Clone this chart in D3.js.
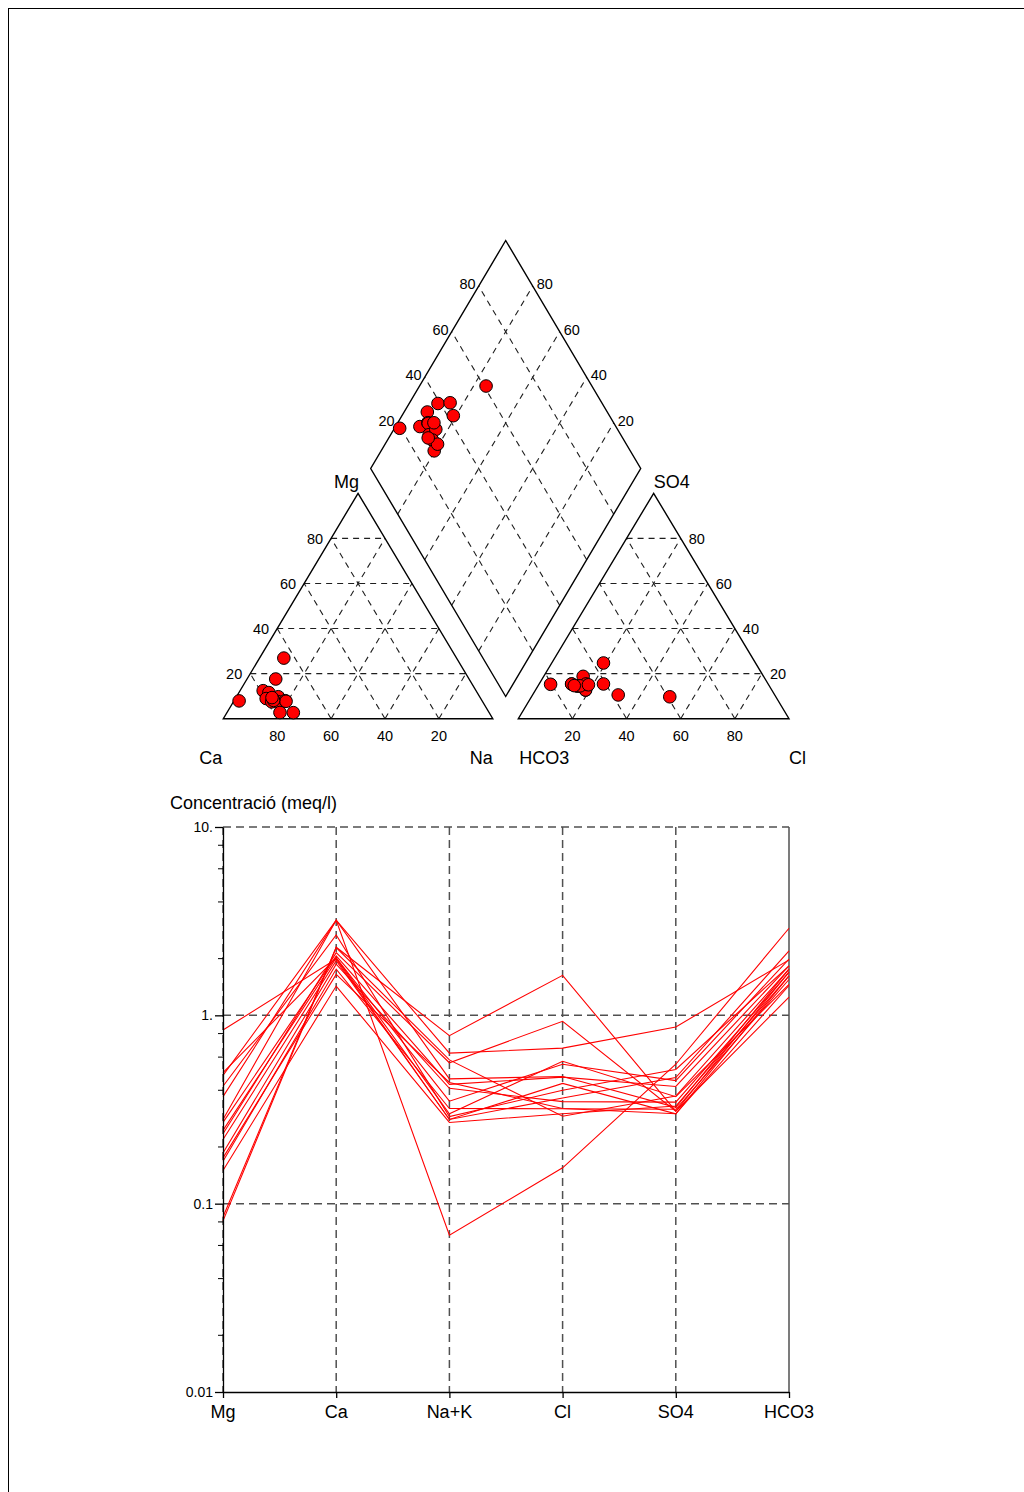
<!DOCTYPE html>
<html>
<head>
<meta charset="utf-8">
<script src="https://cdn.jsdelivr.net/npm/d3@7"></script>
<style>
  html, body { margin: 0; padding: 0; background: #fff; }
  svg { display: block; }
  text { font-family: "Liberation Sans", Arial, Helvetica, sans-serif; fill: #000; }
</style>
</head>
<body>
<svg id="chart" width="1024" height="1492"></svg>
<script>
// Major ions, in the order used along the Schoeller axis
const ions = ["Mg", "Ca", "Na+K", "Cl", "SO4", "HCO3"];

// Concentrations (meq/l), one entry per water sample
const mg   = [0.28, 0.085, 0.835, 0.42, 0.496, 0.48, 0.219, 0.168, 0.37, 0.27, 0.186, 0.235, 0.081, 0.175, 0.15, 0.245];
const ca   = [3.20, 2.30, 1.99, 2.67, 2.02, 3.20, 1.95, 1.76, 3.20, 2.07, 1.87, 2.15, 2.29, 1.65, 1.43, 2.02];
const naK  = [0.068, 0.78, 0.28, 0.29, 0.30, 0.46, 0.28, 0.32, 0.63, 0.43, 0.41, 0.56, 0.58, 0.44, 0.27, 0.35];
const cl   = [0.155, 1.63, 0.364, 0.40, 0.57, 0.473, 0.435, 0.319, 0.67, 0.47, 0.348, 0.93, 0.291, 0.32, 0.30, 0.55];
const so4  = [0.55, 0.31, 0.467, 0.516, 0.37, 0.325, 0.30, 0.317, 0.867, 0.419, 0.346, 0.31, 0.373, 0.30, 0.33, 0.45];
const hco3 = [2.90, 1.25, 2.20, 1.83, 1.46, 1.76, 1.62, 1.55, 1.97, 1.83, 1.69, 1.70, 1.76, 1.44, 1.62, 1.99];

// Tick labels
const ternaryTicks = [20, 40, 60, 80];
const logTickValues = [0.01, 0.1, 1, 10];
const logTickLabels = ["0.01", "0.1", "1.", "10."];
const logMinorValues = [0.02, 0.04, 0.06, 0.08, 0.2, 0.4, 0.6, 0.8, 2, 4, 6, 8];

const svg = d3.select("#chart");
const font = "Liberation Sans, Arial, sans-serif";

// Page frame
svg.append("rect")
  .attr("x", 8.5).attr("y", 8.5).attr("width", 1300).attr("height", 1700)
  .attr("fill", "none").attr("stroke", "#000").attr("stroke-width", 1);

// ---------------- Piper diagram ----------------
const gridStyle = sel => sel.attr("stroke", "#1e1e1e").attr("stroke-width", 1.1)
  .attr("stroke-dasharray", "6,5").attr("fill", "none");
const edgeStyle = sel => sel.attr("stroke", "#000").attr("stroke-width", 1.4)
  .attr("fill", "none").attr("stroke-linejoin", "miter");

const baseY = 718.7, apexY = 493.3;
// Cation triangle: Ca (left), Na+K (right), Mg (top)
const catX = d3.scaleLinear().domain([0, 100]).range([223.3, 492.8]);
const catY = d3.scaleLinear().domain([0, 100]).range([baseY, apexY]);
const catPt = (mgP, naP) => [catX(naP + mgP / 2), catY(mgP)];
// Anion triangle: HCO3 (left), Cl (right), SO4 (top)
const anX = d3.scaleLinear().domain([0, 100]).range([518.3, 789.0]);
const anY = d3.scaleLinear().domain([0, 100]).range([baseY, apexY]);
const anPt = (so4P, clP) => [anX(clP + so4P / 2), anY(so4P)];
// Diamond: u = Ca+Mg (%), v = SO4+Cl (%)
const dBottom = [505.7, 696.5];
const dUx = d3.scaleLinear().domain([0, 100]).range([0, -135.0]);
const dVx = d3.scaleLinear().domain([0, 100]).range([0, 135.0]);
const dUy = d3.scaleLinear().domain([0, 100]).range([0, -228.0]);
const dVy = d3.scaleLinear().domain([0, 100]).range([0, -228.0]);
const diaPt = (u, v) => [dBottom[0] + dUx(u) + dVx(v), dBottom[1] + dUy(u) + dVy(v)];

const line2 = (g, a, b) => g.append("line")
  .attr("x1", a[0]).attr("y1", a[1]).attr("x2", b[0]).attr("y2", b[1]);

const piper = svg.append("g");
const grid = piper.append("g");

// Triangle and diamond grids
ternaryTicks.forEach(p => {
  // cation: constant Mg, constant Na, constant Ca
  gridStyle(line2(grid, catPt(p, 0), catPt(p, 100 - p)));
  gridStyle(line2(grid, catPt(0, p), catPt(100 - p, p)));
  gridStyle(line2(grid, catPt(0, 100 - p), catPt(100 - p, 0)));
  // anion: constant SO4, constant Cl, constant HCO3
  gridStyle(line2(grid, anPt(p, 0), anPt(p, 100 - p)));
  gridStyle(line2(grid, anPt(0, p), anPt(100 - p, p)));
  gridStyle(line2(grid, anPt(0, 100 - p), anPt(100 - p, 0)));
  // diamond
  gridStyle(line2(grid, diaPt(p, 0), diaPt(p, 100)));
  gridStyle(line2(grid, diaPt(0, p), diaPt(100, p)));
});

// Outlines
const outline = pts => edgeStyle(piper.append("path").attr("d", d3.line()(pts) + "Z"));
outline([catPt(0, 0), catPt(0, 100), catPt(100, 0)]);
outline([anPt(0, 0), anPt(0, 100), anPt(100, 0)]);
outline([diaPt(0, 0), diaPt(100, 0), diaPt(100, 100), diaPt(0, 100)]);

// Tick labels
const tick = (x, y, txt, anchor) => piper.append("text")
  .attr("x", x).attr("y", y).attr("text-anchor", anchor)
  .attr("font-size", 14.5).text(txt);
ternaryTicks.forEach(p => {
  let q = catPt(p, 0);             tick(q[0] - 8, q[1] + 5.5, p, "end");
  q = catPt(0, p);                 tick(q[0], 741, 100 - p, "middle");
  q = anPt(p, 100 - p);            tick(q[0] + 8, q[1] + 5.5, p, "start");
  q = anPt(0, p);                  tick(q[0], 741, p, "middle");
  q = diaPt(100, p);               tick(q[0] - 3, q[1] + 3, p, "end");
  q = diaPt(p, 100);               tick(q[0] + 4, q[1] + 3, p, "start");
});

// Corner labels
const corner = (x, y, txt, anchor) => piper.append("text")
  .attr("x", x).attr("y", y).attr("text-anchor", anchor)
  .attr("font-size", 18).text(txt);
corner(catPt(100, 0)[0] + 1, 487.5, "Mg", "end");
corner(anPt(100, 0)[0], 487.5, "SO4", "start");
corner(catPt(0, 0)[0] - 1, 763.5, "Ca", "end");
corner(catPt(0, 100)[0], 763.5, "Na", "end");
corner(anPt(0, 0)[0] + 1, 763.5, "HCO3", "start");
corner(anPt(0, 100)[0], 763.5, "Cl", "start");

// Sample percentages
const samples = d3.range(mg.length).map(i => {
  const ct = mg[i] + ca[i] + naK[i];
  const at = cl[i] + so4[i] + hco3[i];
  return {
    mgP: 100 * mg[i] / ct, naP: 100 * naK[i] / ct,
    so4P: 100 * so4[i] / at, clP: 100 * cl[i] / at
  };
});

const dots = piper.append("g");
const dot = (p) => dots.append("circle")
  .attr("cx", p[0]).attr("cy", p[1]).attr("r", 6.3)
  .attr("fill", "#ff0000").attr("stroke", "#000").attr("stroke-width", 1);
samples.forEach(s => {
  dot(catPt(s.mgP, s.naP));
  dot(anPt(s.so4P, s.clP));
  dot(diaPt(100 - s.naP, s.so4P + s.clP));
});

// ---------------- Schoeller diagram ----------------
const x = d3.scalePoint().domain(ions).range([223, 789]);
const y = d3.scaleLog().domain([0.01, 10]).range([1392, 827]);
const sch = svg.append("g");
const dash = sel => sel.attr("stroke", "#505050").attr("stroke-width", 1.5)
  .attr("stroke-dasharray", "8,5");

// horizontal grid at decades
[10, 1, 0.1].forEach(v => dash(sch.append("line")
  .attr("x1", x("Mg")).attr("x2", x("HCO3")).attr("y1", y(v)).attr("y2", y(v))));
// vertical grid at each ion
ions.slice(0, 5).forEach(k => dash(sch.append("line")
  .attr("x1", x(k)).attr("x2", x(k)).attr("y1", y(10)).attr("y2", y(0.01))));
// right border
sch.append("line").attr("x1", x("HCO3")).attr("x2", x("HCO3"))
  .attr("y1", y(10)).attr("y2", y(0.01)).attr("stroke", "#505050").attr("stroke-width", 1.5);

// sample lines
const lineGen = d3.line().x(d => x(d.ion)).y(d => y(d.v));
const lines = sch.append("g");
d3.range(mg.length).forEach(i => {
  const vals = [mg[i], ca[i], naK[i], cl[i], so4[i], hco3[i]];
  lines.append("path")
    .attr("d", lineGen(ions.map((k, j) => ({ ion: k, v: vals[j] }))))
    .attr("fill", "none").attr("stroke", "#ff0000").attr("stroke-width", 1.1);
});

// Y axis
const yAxis = d3.axisLeft(y).tickValues(logTickValues)
  .tickFormat((d, i) => logTickLabels[i]).tickSize(8).tickSizeOuter(0).tickPadding(2);
const ya = sch.append("g").attr("transform", `translate(${x("Mg")},0)`).call(yAxis);
ya.selectAll("text").attr("font-size", 14).attr("font-family", font).attr("fill", "#000");
ya.selectAll("line, path").attr("stroke", "#000").attr("stroke-width", 1.3);
sch.append("g").selectAll("line").data(logMinorValues).join("line")
  .attr("x1", x("Mg") - 5).attr("x2", x("Mg")).attr("y1", d => y(d)).attr("y2", d => y(d))
  .attr("stroke", "#000").attr("stroke-width", 1);

// X axis
const xAxis = d3.axisBottom(x).tickSize(6).tickSizeOuter(0).tickFormat("");
const xa = sch.append("g").attr("transform", `translate(0,${y(0.01)})`).call(xAxis);
xa.selectAll("line, path").attr("stroke", "#000").attr("stroke-width", 1.3);
sch.append("g").selectAll("text").data(ions).join("text")
  .attr("x", d => x(d)).attr("y", 1418).attr("text-anchor", "middle")
  .attr("font-size", 18).text(d => d);

// Y axis title
sch.append("text").attr("x", 170).attr("y", 809).attr("font-size", 18)
  .text("Concentració (meq/l)");
</script>
</body>
</html>
